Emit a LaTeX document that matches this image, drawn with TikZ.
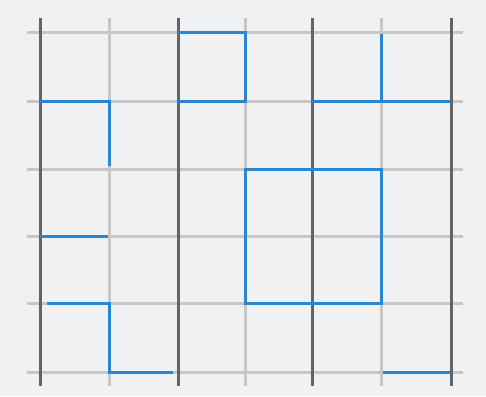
\documentclass[tikz,border=0pt]{standalone}
\definecolor{bgc}{HTML}{F0F1F2}
\definecolor{darkline}{HTML}{646464}
\definecolor{lightline}{HTML}{C9C6C3}
\definecolor{blueline}{HTML}{2A86D1}
\begin{document}
\begin{tikzpicture}[x=1pt,y=-1pt,
  hline/.style={lightline,line width=3pt},
  vdark/.style={darkline,line width=3pt},
  vlight/.style={lightline,line width=3pt},
  route/.style={blueline,line width=3pt,line join=miter}]
\fill[bgc] (0,0) rectangle (486,396);
\useasboundingbox (0,0) rectangle (486,396);
% horizontal grid lines
\foreach \y in {33,101,169,236,303,372} \draw[hline] (27,\y) -- (463,\y);
% light vertical lines
\foreach \x in {109,245,381} \draw[vlight] (\x,18) -- (\x,386);
% dark vertical lines
\foreach \x in {40,178,312,451} \draw[vdark] (\x,18) -- (\x,386);
% blue routes
\draw[route] (40,101) -- (109,101) -- (109,166);
\draw[route] (178,33) -- (245,33) -- (245,101) -- (178,101);
\draw[route] (381,34) -- (381,101);
\draw[route] (312,101) -- (451,101);
\draw[route] (245,169) rectangle (381,303);
\draw[route] (40,236) -- (108,236);
\draw[route] (47,303) -- (109,303) -- (109,372) -- (173,372);
\draw[route] (383,372) -- (450,372);
\end{tikzpicture}
\end{document}
